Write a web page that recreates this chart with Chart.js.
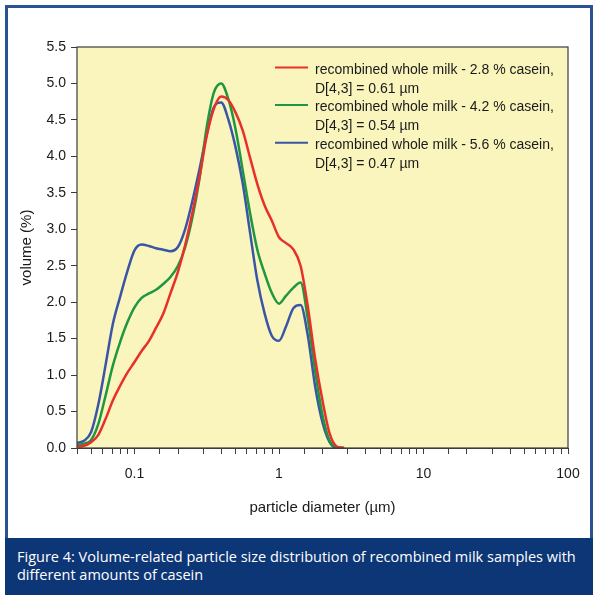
<!DOCTYPE html>
<html>
<head>
<meta charset="utf-8">
<script src="https://cdn.jsdelivr.net/npm/chart.js@4.4.1/dist/chart.umd.min.js"></script>
<style>
  body { margin: 0; background: #fff; }
  #page { position: relative; width: 598px; height: 600px; }
  #frame { position: absolute; left: 5px; top: 5px; width: 582px; height: 584px; border: 3px solid #2a5196; }
  #caption { position: absolute; left: 5px; top: 538px; width: 562px; height: 41px; padding: 10px 14px 6px 12px;
    background: #0d3677; color: #fff; font-family: "Open Sans", sans-serif; font-size: 14.5px; line-height: 18px; }
  #myChart { position: absolute; left: 0; top: 0; }
</style>
</head>
<body>
<div id="page">
  <div id="frame"></div>
  <canvas id="myChart" width="598" height="538"></canvas>
  <div id="caption">Figure 4: Volume-related particle size distribution of recombined milk samples with<br>different amounts of casein</div>
</div>
<script>
// particle diameter (µm), log-spaced bins
const diameters = [0.04, 0.0447, 0.0501, 0.0562, 0.0631, 0.0708, 0.0794, 0.0891, 0.1, 0.112,
  0.126, 0.141, 0.158, 0.178, 0.2, 0.224, 0.251, 0.282, 0.316, 0.355,
  0.398, 0.447, 0.501, 0.562, 0.631, 0.708, 0.794, 0.891, 1.0, 1.12,
  1.26, 1.41, 1.58, 1.78, 2.0, 2.24, 2.51, 2.82];

// volume (%)
const casein28 = [0.02, 0.03, 0.08, 0.18, 0.40, 0.65, 0.85, 1.03, 1.18, 1.33,
  1.47, 1.65, 1.84, 2.13, 2.42, 2.78, 3.22, 3.72, 4.28, 4.66,
  4.82, 4.77, 4.60, 4.35, 3.98, 3.62, 3.33, 3.12, 2.89, 2.81,
  2.72, 2.50, 1.95, 1.22, 0.65, 0.20, 0.02, 0.0];
const casein42 = [0.04, 0.06, 0.11, 0.33, 0.72, 1.13, 1.45, 1.72, 1.93, 2.06,
  2.12, 2.17, 2.25, 2.35, 2.50, 2.75, 3.15, 3.70, 4.40, 4.88,
  5.00, 4.78, 4.37, 3.80, 3.22, 2.72, 2.40, 2.13, 1.98, 2.09,
  2.20, 2.27, 1.78, 1.05, 0.45, 0.10, 0.01, 0.0];
const casein56 = [0.07, 0.10, 0.22, 0.60, 1.14, 1.70, 2.07, 2.42, 2.71, 2.79,
  2.77, 2.74, 2.72, 2.70, 2.76, 3.00, 3.38, 3.83, 4.30, 4.68,
  4.74, 4.50, 4.12, 3.62, 2.95, 2.30, 1.85, 1.54, 1.47, 1.67,
  1.92, 1.96, 1.55, 0.84, 0.35, 0.08, 0.0, 0.0];

const legendLines = [
  ["recombined whole milk - 2.8 % casein,", "D[4,3] = 0.61 µm"],
  ["recombined whole milk - 4.2 % casein,", "D[4,3] = 0.54 µm"],
  ["recombined whole milk - 5.6 % casein,", "D[4,3] = 0.47 µm"],
];
const colors = ["#e8302a", "#1f9640", "#3a55a5"];
const yTicks = [0, 0.5, 1, 1.5, 2, 2.5, 3, 3.5, 4, 4.5, 5, 5.5];

const FONT = "Arial, 'Liberation Sans', sans-serif";

const plotBox = {
  id: "plotBox",
  beforeDatasetsDraw(chart) {
    const { ctx, chartArea: a } = chart;
    ctx.save();
    ctx.fillStyle = "#f9f5bd";
    ctx.fillRect(a.left, a.top, a.width, a.height);
    ctx.restore();
  },
  afterDraw(chart) {
    const { ctx, chartArea: a } = chart;
    ctx.save();
    ctx.strokeStyle = "#3c3c3c";
    ctx.lineWidth = 1.2;
    ctx.strokeRect(a.left, a.top, a.width, a.height);
    // legend
    ctx.font = "14px " + FONT;
    ctx.textBaseline = "middle";
    ctx.fillStyle = "#1a1a1a";
    legendLines.forEach((lines, i) => {
      const y = a.top + 20.5 + i * 37.6;
      ctx.strokeStyle = colors[i];
      ctx.lineWidth = 2;
      ctx.beginPath();
      ctx.moveTo(a.left + 198, y);
      ctx.lineTo(a.left + 231, y);
      ctx.stroke();
      ctx.fillText(lines[0], a.left + 238, y + 2.5);
      ctx.fillText(lines[1], a.left + 238, y + 21.5);
    });
    ctx.restore();
  },
};

const chart = new Chart(document.getElementById("myChart").getContext("2d"), {
  type: "line",
  data: {
    datasets: [casein28, casein42, casein56].map((vals, i) => ({
      label: legendLines[i].join(" "),
      data: diameters.map((d, j) => ({ x: d, y: vals[j] })),
      borderColor: colors[i],
      borderWidth: 2.5,
      pointRadius: 0,
      cubicInterpolationMode: "monotone",
      fill: false,
    })),
  },
  options: {
    responsive: false,
    animation: false,
    devicePixelRatio: 1,
    layout: { padding: { left: 0, top: 47, right: 30, bottom: 0 } },
    plugins: { legend: { display: false }, tooltip: { enabled: false } },
    scales: {
      x: {
        type: "logarithmic",
        min: 0.04,
        max: 100,
        border: { display: true, color: "#3c3c3c" },
        grid: { drawOnChartArea: false, tickLength: 6, color: "#3c3c3c" },
        ticks: {
          autoSkip: false,
          maxRotation: 0,
          padding: 12,
          color: "#1a1a1a",
          font: { family: FONT, size: 14 },
          callback: (v) => {
            const l = Math.log10(v);
            return Math.abs(l - Math.round(l)) < 1e-6 ? String(v) : "";
          },
        },
        title: {
          display: true,
          text: "particle diameter (µm)",
          color: "#1a1a1a",
          font: { family: FONT, size: 15 },
          padding: { top: 0, bottom: 21 },
        },
        afterFit: (s) => { s.height = 90; },
      },
      y: {
        min: 0,
        max: 5.5,
        border: { display: true, color: "#3c3c3c" },
        grid: { drawOnChartArea: false, tickLength: 6, color: "#3c3c3c" },
        afterBuildTicks: (s) => { s.ticks = yTicks.map((v) => ({ value: v })); },
        ticks: {
          padding: 5,
          color: "#1a1a1a",
          font: { family: FONT, size: 14 },
          callback: (v) => v.toFixed(1),
        },
        title: {
          display: true,
          text: "volume (%)",
          color: "#1a1a1a",
          font: { family: FONT, size: 15 },
          padding: { top: 18, bottom: 0 },
        },
        afterFit: (s) => { s.width = 77; },
      },
    },
  },
  plugins: [plotBox],
});
</script>
</body>
</html>
